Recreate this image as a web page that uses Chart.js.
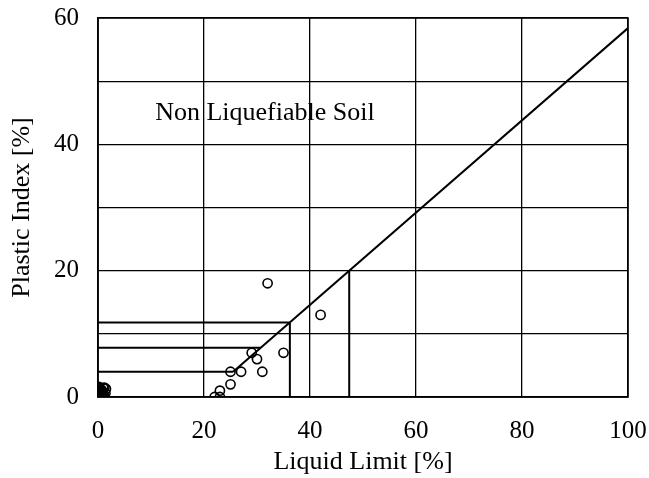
<!DOCTYPE html>
<html><head><meta charset="utf-8">
<script src="https://cdn.jsdelivr.net/npm/chart.js@4.4.0/dist/chart.umd.min.js"></script>
<style>html,body{margin:0;padding:0;background:#fff}#wrap{width:649px;height:478px}</style>
</head><body><div id="wrap"><canvas id="c" width="649" height="478"></canvas></div>
<script>
const xTicks = [0, 20, 40, 60, 80, 100];
const yTicks = [0, 20, 40, 60];
const sampleLL = [32, 42, 35, 29, 30, 27, 25, 31, 25, 23, 22, 23, 0, 0, 0, 0, 0, 0.3, 0.5, 0.5, 1, 1, 0.2, 0.8, 0.4, 0.6, 1.2, 0.1, 0.7, 1.5, 1.4, 0.9, 0.3, 1.1];
const samplePI = [18, 13, 7, 7, 6, 4, 4, 4, 2, 1, 0, 0, 0, 0.3, 0.7, 1.2, 0.9, 0.5, 0, 1, 1.4, 0.5, 1.6, 0.2, 0.8, 0.4, 1.5, 0.1, 1.1, 1.3, 0.6, 0, 1.4, 0.2];
const aLineLL = [25.5, 100];
const aLinePI = [4, 58.4];
const limitPI = [4, 7.8, 11.8];
const limitLL = [25.5, 30.7, 36.2];
const boundLL = [36.2, 47.4];
const boundPI = [11.8, 20];
const labelText = "Non Liquefiable Soil";
const labelPos = [31.5, 45];

const black = '#000';
const fontFam = '"Liberation Serif", "Times New Roman", serif';
const segs = [];
limitPI.forEach((p, i) => segs.push([{x: 0, y: p}, {x: limitLL[i], y: p}]));
boundLL.forEach((l, i) => segs.push([{x: l, y: 0}, {x: l, y: boundPI[i]}]));
const datasets = [];
datasets.push({type: 'line', data: aLineLL.map((l, i) => ({x: l, y: aLinePI[i]})), borderColor: black, borderWidth: 2, pointRadius: 0, fill: false});
segs.forEach(s => datasets.push({type: 'line', data: s, borderColor: black, borderWidth: 2, pointRadius: 0, fill: false}));
datasets.push({type: 'scatter', data: sampleLL.map((l, i) => ({x: l, y: samplePI[i]})), borderColor: black, backgroundColor: 'rgba(0,0,0,0)', borderWidth: 1.6, pointRadius: 4.6, pointHoverRadius: 4.6});

const textPlugin = {
  id: 'txt',
  afterDatasetsDraw(chart) {
    const {ctx, scales: {x, y}} = chart;
    ctx.save();
    ctx.font = '26px ' + fontFam;
    ctx.fillStyle = black;
    ctx.textAlign = 'center';
    ctx.textBaseline = 'middle';
    ctx.fillText(labelText, x.getPixelForValue(labelPos[0]), y.getPixelForValue(labelPos[1]));
    ctx.restore();
  }
};

new Chart(document.getElementById('c'), {
  type: 'scatter',
  data: {datasets},
  options: {
    responsive: false, animation: false, devicePixelRatio: 1,
    layout: {padding: {left: 0, right: 21, top: 18, bottom: 0}},
    plugins: {legend: {display: false}, tooltip: {enabled: false}},
    scales: {
      x: {type: 'linear', min: 0, max: 100,
        afterBuildTicks: s => { s.ticks = xTicks.map(v => ({value: v})); },
        ticks: {color: black, font: {family: fontFam, size: 25}, padding: 19, maxRotation: 0},
        grid: {color: black, lineWidth: 1.3, drawTicks: false},
        border: {color: black, width: 1.5},
        title: {display: true, text: 'Liquid Limit [%]', color: black, font: {family: fontFam, size: 26}, padding: {top: 4, bottom: 0}},
        afterFit: s => { s.height = 81; s.paddingLeft = 0; s.paddingRight = 0; }
      },
      y: {type: 'linear', min: 0, max: 60,
        ticks: {stepSize: 10, color: black, font: {family: fontFam, size: 25}, padding: 19,
          callback: v => yTicks.includes(v) ? String(v) : ''},
        grid: {color: black, lineWidth: 1.3, drawTicks: false},
        border: {color: black, width: 1.5},
        title: {display: true, text: 'Plastic Index [%]', color: black, font: {family: fontFam, size: 26}, padding: {top: 7, bottom: 0}},
        afterFit: s => { s.width = 98; s.paddingTop = 0; s.paddingBottom = 0; }
      }
    }
  },
  plugins: [textPlugin, {
    id: 'frame',
    afterDraw(chart) {
      const {ctx, chartArea: a} = chart;
      ctx.save(); ctx.strokeStyle = black; ctx.lineWidth = 1.5;
      ctx.strokeRect(a.left, a.top, a.right - a.left, a.bottom - a.top);
      ctx.restore();
    }
  }]
});
</script></body></html>
